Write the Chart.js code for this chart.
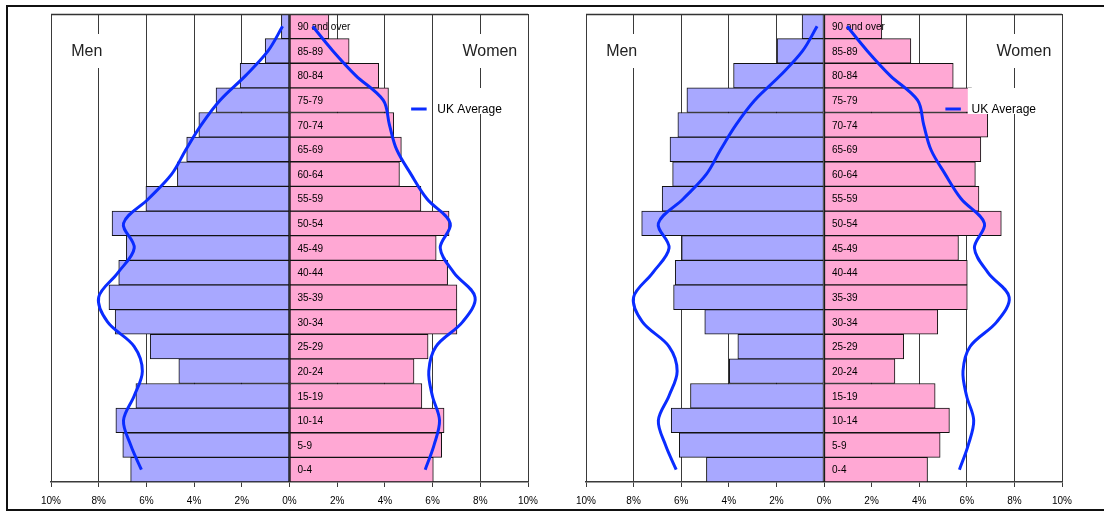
<!DOCTYPE html>
<html>
<head>
<meta charset="utf-8">
<title>Population pyramids</title>
<script src="https://cdn.jsdelivr.net/npm/chart.js@4.4.1/dist/chart.umd.min.js"></script>
<style>
  html, body { margin: 0; padding: 0; background: #fff; }
  #wrap { position: relative; width: 1104px; height: 511px; overflow: hidden; }
  #frame { position: absolute; left: 6px; top: 5px; width: 1200px; height: 506px; box-sizing: border-box;
           border: 2px solid #111; border-right: none; }
  canvas { position: absolute; top: 0; }
</style>
</head>
<body>
<div id="wrap">
  <div id="frame"></div>
  <canvas id="left-chart" width="552" height="511" style="left:0"></canvas>
  <canvas id="right-chart" width="552" height="511" style="left:552px"></canvas>
</div>
<script>
// age bands, youngest first (drawn bottom-up)
const ageGroups = ['0-4', '5-9', '10-14', '15-19', '20-24', '25-29', '30-34', '35-39', '40-44',
  '45-49', '50-54', '55-59', '60-64', '65-69', '70-74', '75-79', '80-84', '85-89', '90 and over'];

// % of population, left pyramid
const leftMen   = [6.66, 6.99, 7.28, 6.44, 4.64, 5.84, 7.31, 7.57, 7.16, 6.84, 7.44, 6.02, 4.70, 4.31, 3.80, 3.08, 2.07, 1.02, 0.34];
const leftWomen = [6.03, 6.38, 6.48, 5.55, 5.22, 5.81, 7.02, 7.02, 6.63, 6.15, 6.69, 5.51, 4.61, 4.69, 4.37, 4.15, 3.74, 2.50, 1.65];

// % of population, right pyramid
const rightMen   = [4.94, 6.08, 6.42, 5.61, 3.98, 3.62, 5.01, 6.32, 6.25, 5.98, 7.66, 6.80, 6.36, 6.47, 6.14, 5.76, 3.80, 1.97, 0.92];
const rightWomen = [4.35, 4.88, 5.27, 4.67, 2.98, 3.35, 4.78, 6.02, 6.02, 5.65, 7.45, 6.51, 6.36, 6.59, 6.88, 6.20, 5.43, 3.65, 2.43];

// UK average profile (same on both)
const ukMen   = [6.21, 6.66, 6.96, 6.51, 6.17, 6.51, 7.63, 8.00, 7.19, 6.51, 6.96, 5.91, 4.94, 4.34, 3.70, 2.91, 1.84, 0.90, 0.29];
const ukWomen = [5.69, 6.06, 6.29, 5.99, 5.84, 6.14, 7.26, 7.78, 6.89, 6.32, 6.74, 5.76, 5.09, 4.49, 4.19, 3.93, 2.78, 1.82, 0.97];

const xTicks = [-10, -8, -6, -4, -2, 0, 2, 4, 6, 8, 10];

const FONT = '"Liberation Sans", Arial, sans-serif';
const MEN_COLOR = '#a8a8ff';
const WOMEN_COLOR = '#ffa8d4';
const UK_COLOR = '#0a2cff';

const overlay = {
  id: 'overlay',
  afterDatasetDraw(chart, args) {
    // age labels sit on top of the bars but under the UK line
    if (args.meta.type !== 'bar' || args.index !== 0) return;
    const { ctx, scales: { x, y } } = chart;
    const x0 = x.getPixelForValue(0);
    ctx.save();
    ctx.font = '10px ' + FONT;
    ctx.fillStyle = '#000';
    ctx.textAlign = 'left';
    ctx.textBaseline = 'middle';
    ageGroups.forEach((g, i) => ctx.fillText(g, x0 + 8, y.getPixelForValue(i) + 1));
    ctx.restore();
  },
  afterDatasetsDraw(chart) {
    const { ctx, chartArea: a, scales: { x } } = chart;
    ctx.save();
    // top edge of plot box
    ctx.strokeStyle = '#333';
    ctx.lineWidth = 1.5;
    ctx.beginPath();
    ctx.moveTo(a.left, a.top + 0.5);
    ctx.lineTo(a.right, a.top + 0.5);
    ctx.stroke();

    // Men / Women headings with white backing
    ctx.font = '16px ' + FONT;
    ctx.textAlign = 'center';
    ctx.textBaseline = 'middle';
    [['Men', -8.5], ['Women', 8.4]].forEach(([t, v]) => {
      const cx = x.getPixelForValue(v);
      const w = ctx.measureText(t).width + 6;
      ctx.fillStyle = '#fff';
      ctx.fillRect(cx - w / 2, a.top + 20, w, 34);
      ctx.fillStyle = '#222';
      ctx.fillText(t, cx, a.top + 38);
    });

    // legend
    const lx = x.getPixelForValue(6) + 1;
    ctx.fillStyle = '#fff';
    ctx.fillRect(lx, a.top + 74, x.getPixelForValue(9) - lx, 26);
    ctx.strokeStyle = UK_COLOR;
    ctx.lineWidth = 3;
    ctx.beginPath();
    ctx.moveTo(x.getPixelForValue(5.1), a.top + 95);
    ctx.lineTo(x.getPixelForValue(5.75), a.top + 95);
    ctx.stroke();
    ctx.font = '12px ' + FONT;
    ctx.fillStyle = '#000';
    ctx.textAlign = 'left';
    ctx.fillText('UK Average', x.getPixelForValue(6.2), a.top + 96);
    ctx.restore();
  }
};

function barSet(label, values, color) {
  return {
    type: 'bar', label, data: values, backgroundColor: color,
    borderColor: '#111', borderWidth: 1, borderSkipped: false,
    barPercentage: 1, categoryPercentage: 1, grouped: false, order: 2
  };
}

function lineSet(label, values) {
  return {
    type: 'line', label, data: values, indexAxis: 'y',
    borderColor: UK_COLOR, borderWidth: 3, pointRadius: 0, tension: 0.35, fill: false, order: 1
  };
}

function makePyramid(canvasId, men, women, padLeft, padRight) {
  return new Chart(document.getElementById(canvasId), {
    type: 'bar',
    data: {
      labels: ageGroups,
      datasets: [
        barSet('Men', men.map(v => -v), MEN_COLOR),
        barSet('Women', women, WOMEN_COLOR),
        lineSet('UK Average', ukMen.map(v => -v)),
        lineSet('UK Average', ukWomen),
      ],
    },
    options: {
      responsive: false,
      animation: false,
      indexAxis: 'y',
      layout: { padding: { left: padLeft, right: padRight, top: 14, bottom: 0 } },
      plugins: { legend: { display: false }, tooltip: { enabled: false } },
      scales: {
        x: {
          min: xTicks[0],
          max: xTicks[xTicks.length - 1],
          afterBuildTicks: s => { s.ticks = xTicks.map(v => ({ value: v })); },
          afterFit: s => { s.height = 29; },
          ticks: {
            callback: v => Math.abs(v) + '%',
            color: '#000',
            font: { family: FONT, size: 10 },
            padding: 8,
            maxRotation: 0,
            autoSkip: false,
          },
          grid: { color: '#3a3a3a', lineWidth: 1, tickLength: 5 },
          border: { color: '#3a3a3a', width: 1.5 },
        },
        y: { display: false, reverse: true },
      },
    },
    plugins: [overlay],
  });
}

makePyramid('left-chart', leftMen, leftWomen, 51, 24);
makePyramid('right-chart', rightMen, rightWomen, 34, 42);
</script>
</body>
</html>
